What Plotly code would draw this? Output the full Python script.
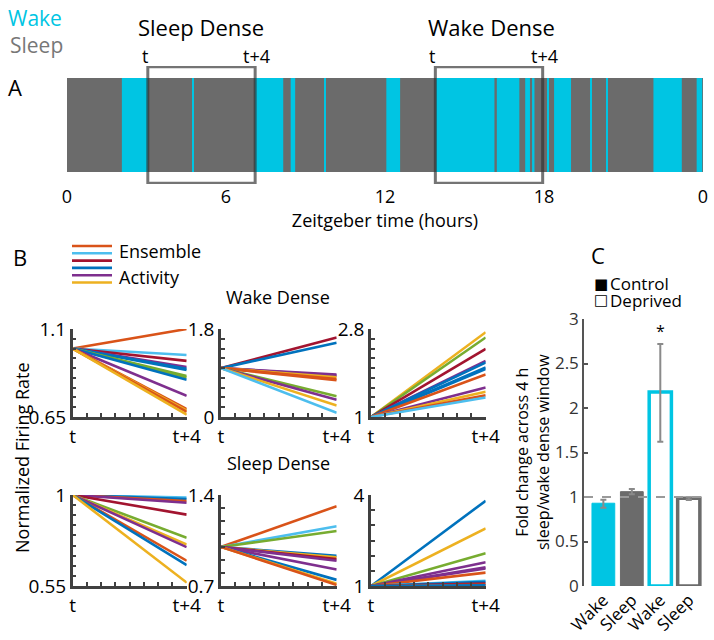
import plotly.graph_objects as go
import numpy as np

# ---------------- Panel A data (hours) ----------------
wake_start = [2.07, 4.74, 7.09, 8.44, 9.72, 12.05, 13.92, 16.22, 17.29, 17.55, 18.15, 18.38, 19.74, 20.34, 22.13, 23.76]
wake_end   = [3.06, 4.78, 8.16, 8.61, 9.76, 12.57, 16.13, 17.07, 17.47, 17.64, 18.19, 19.02, 19.78, 20.38, 23.20, 23.97]
day_length = 24
sleep_window = [3.05, 7.1]
wake_window = [13.9, 17.95]
zt_ticks = [0, 6, 12, 18, 24]
zt_labels = ["0", "6", "12", "18", "0"]

# ---------------- Panel B data ----------------
t_pts = [0, 4]
wd1_end = [1.10, 0.967, 0.937, 0.905, 0.897, 0.89, 0.86, 0.852, 0.840, 0.758, 0.69, 0.683, 0.676, 0.662]
wd1_col = ["orange", "lightblue", "darkred", "purple", "blue", "blue", "green", "green", "blue", "purple", "orange", "yellow", "orange", "yellow"]
wd2_end = [1.624, 1.52, 0.866, 0.846, 0.812, 0.778, 0.75, 0.426, 0.352, 0.237, 0.088]
wd2_col = ["darkred", "blue", "purple", "purple", "yellow", "orange", "orange", "green", "purple", "yellow", "lightblue"]
wd3_end = [2.734, 2.627, 2.395, 2.149, 2.116, 2.016, 1.983, 1.87, 1.605, 1.518, 1.445, 1.40]
wd3_col = ["yellow", "green", "darkred", "purple", "blue", "blue", "blue", "orange", "purple", "yellow", "orange", "lightblue"]
sd1_end = [0.987, 0.98, 0.97, 0.962, 0.903, 0.788, 0.755, 0.742, 0.675, 0.653, 0.567]
sd1_col = ["lightblue", "blue", "orange", "purple", "darkred", "green", "yellow", "purple", "orange", "blue", "yellow"]
sd2_end = [1.314, 1.159, 1.123, 0.933, 0.92, 0.907, 0.894, 0.827, 0.747, 0.718, 0.708]
sd2_col = ["orange", "lightblue", "green", "blue", "yellow", "darkred", "purple", "purple", "blue", "yellow", "orange"]
sd3_end = [3.81, 2.90, 2.08, 1.78, 1.615, 1.58, 1.44, 1.17, 1.14, 1.08, 1.04, 1.02]
sd3_col = ["blue", "yellow", "green", "purple", "purple", "purple", "orange", "lightblue", "blue", "darkred", "orange", "blue"]
start_val = 1.0
b_ranges = [[0.65, 1.1], [0, 1.8], [1, 2.8], [0.55, 1], [0.7, 1.4], [1, 4]]
b_labels = [["0.65", "1.1"], ["0", "1.8"], ["1", "2.8"], ["0.55", "1"], ["0.7", "1.4"], ["1", "4"]]
b_steps = [0.05, 0.2, 0.2, 0.05, 0.1, 0.5]
legend_cols = ["orange", "lightblue", "darkred", "blue", "purple", "yellow"]

# ---------------- Panel C data ----------------
c_cats = ["Wake", "Sleep", "Wake", "Sleep"]
ctrl_mean = [0.93, 1.06]
ctrl_err_lo = [0.05, 0.03]
ctrl_err_hi = [0.04, 0.03]
dep_mean = [2.18, 0.985]
dep_err_lo = [0.56, 0.02]
dep_err_hi = [0.54, 0.01]

# ---------------- styles ----------------
FONT = "Open Sans"
CYAN = "#00C5E3"
GRAY = "#6B6B6B"
AX = "#404040"
PAL = {"orange": "#D95319", "lightblue": "#4DBEEE", "darkred": "#A2142F", "blue": "#0072BD",
       "purple": "#7E2F8E", "yellow": "#EDB120", "green": "#77AC30"}

W, H = 714, 640
def px(x): return x / W
def py(y): return 1 - y / H

fig = go.Figure()

# Panel A
fig.add_trace(go.Bar(orientation="h", y=[0.5], x=[day_length], base=[0], width=[1],
                     marker=dict(color=GRAY, line=dict(width=0)), xaxis="x", yaxis="y", showlegend=False))
fig.add_trace(go.Bar(orientation="h", y=[0.5] * len(wake_start),
                     x=[e - s for s, e in zip(wake_start, wake_end)], base=wake_start,
                     width=[1] * len(wake_start),
                     marker=dict(color=CYAN, line=dict(width=0)), xaxis="x", yaxis="y", showlegend=False))
box_line = dict(color="rgba(50,50,50,0.68)", width=3)
for win in (sleep_window, wake_window):
    fig.add_shape(type="rect", xref="x", yref="y", x0=win[0], x1=win[1], y0=-0.12, y1=1.12, line=box_line)

layout = dict(
    width=W, height=H, margin=dict(l=0, r=0, t=0, b=0, autoexpand=False),
    paper_bgcolor="white", plot_bgcolor="white", barmode="overlay", showlegend=False,
    font=dict(family=FONT, color="black"),
    xaxis=dict(domain=[px(67), px(703)], range=[0, day_length], tickvals=zt_ticks, ticktext=zt_labels,
               showline=False, ticks="", showgrid=False, zeroline=False, anchor="y", automargin=False,
               tickfont=dict(size=18), title=dict(text="Zeitgeber time (hours)", font=dict(size=18), standoff=0)),
    yaxis=dict(domain=[py(184), py(66)], range=[-0.128, 1.128], visible=False, anchor="x", automargin=False),
)

annotations = []
def ann(text, x, y, size, color="black", xref="paper", yref="paper", **kw):
    d = dict(text=text, x=x, y=y, xref=xref, yref=yref, showarrow=False,
             xanchor="center", yanchor="middle",
             font=dict(size=size, color=color, family=FONT))
    d.update(kw)
    annotations.append(d)

ann("Wake", px(35), py(18), 21, color=CYAN)
ann("Sleep", px(36), py(45), 21, color="#777777")
ann("A", px(15), py(87), 22)
ann("Sleep Dense", sum(sleep_window) / 2, py(27), 22, xref="x")
ann("Wake Dense", sum(wake_window) / 2 + 0.1, py(27), 22, xref="x")
for win in (sleep_window, wake_window):
    ann("t", win[0] - 0.12, py(56), 18, xref="x")
    ann("t+4", win[1] + 0.05, py(56), 18, xref="x")

# Panel B
b_data = [(wd1_end, wd1_col), (wd2_end, wd2_col), (wd3_end, wd3_col),
          (sd1_end, sd1_col), (sd2_end, sd2_col), (sd3_end, sd3_col)]
col_x = [(72.7, 186.7), (221, 336.7), (371, 485.7)]
row_y = [(329, 417), (495, 586)]
for i, (ends, cols) in enumerate(b_data):
    k = i + 2
    r, c = divmod(i, 3)
    xa, ya = f"x{k}", f"y{k}"
    for e, cname in zip(ends, cols):
        fig.add_trace(go.Scatter(x=t_pts, y=[start_val, e], mode="lines",
                                 line=dict(color=PAL[cname], width=2.6), xaxis=xa, yaxis=ya, showlegend=False))
    lo, hi = b_ranges[i]
    ytv = list(np.round(np.arange(lo, hi + 1e-9, b_steps[i]), 4))
    ytt = [""] * len(ytv)
    ytt[0], ytt[-1] = b_labels[i]
    xtv = list(np.arange(0, 4.01, 0.5))
    xtt = ["t"] + [""] * (len(xtv) - 2) + ["t+4"]
    layout[f"xaxis{k}"] = dict(domain=[px(col_x[c][0]), px(col_x[c][1])], range=[0, 4], anchor=ya,
                               tickvals=xtv, ticktext=xtt, ticks="inside", ticklen=4, tickwidth=2, tickcolor=AX,
                               showline=True, linecolor=AX, linewidth=2.5, showgrid=False, zeroline=False,
                               tickfont=dict(size=19), automargin=False)
    layout[f"yaxis{k}"] = dict(domain=[py(row_y[r][1]), py(row_y[r][0])], range=[lo, hi], anchor=xa,
                               tickvals=ytv, ticktext=ytt, ticks="inside", ticklen=4, tickwidth=2, tickcolor=AX,
                               showline=True, linecolor=AX, linewidth=2.5, showgrid=False, zeroline=False,
                               tickfont=dict(size=19), automargin=False)

ann("B", px(20), py(257), 22)
for j, cname in enumerate(legend_cols):
    yy = py(246 + j * 7.3)
    fig.add_shape(type="line", xref="paper", yref="paper", x0=px(72), x1=px(112), y0=yy, y1=yy,
                  line=dict(color=PAL[cname], width=2.6))
ann("Ensemble", px(117), py(251), 18, xanchor="left")
ann("Activity", px(117), py(277), 18, xanchor="left")
ann("Wake Dense", px(278), py(297), 18)
ann("Sleep Dense", px(278), py(463), 18)
ann("Normalized Firing Rate", px(22), py(458), 18, textangle=-90)

# Panel C
fig.add_trace(go.Bar(x=[0, 1], y=ctrl_mean, width=0.8,
                     marker=dict(color=[CYAN, GRAY], line=dict(color=[CYAN, GRAY], width=1)),
                     error_y=dict(type="data", array=ctrl_err_hi, arrayminus=ctrl_err_lo, color="#8a8a8a",
                                  thickness=2, width=3),
                     xaxis="x8", yaxis="y8", showlegend=False, cliponaxis=False))
fig.add_trace(go.Bar(x=[2, 3], y=dep_mean, width=0.78,
                     marker=dict(color="white", line=dict(color=[CYAN, GRAY], width=3.5)),
                     error_y=dict(type="data", array=dep_err_hi, arrayminus=dep_err_lo, color="#8a8a8a",
                                  thickness=2, width=3),
                     xaxis="x8", yaxis="y8", showlegend=False, cliponaxis=False))
fig.add_shape(type="line", xref="x8 domain", yref="y8", x0=0, x1=1, y0=1, y1=1,
              line=dict(color="#9a9a9a", width=2, dash="dash"))
layout["xaxis8"] = dict(domain=[px(584), px(703)], range=[-0.68, 3.5], anchor="y8",
                        tickvals=[0, 1, 2, 3], ticktext=c_cats, tickangle=-45, ticks="",
                        showline=False, showgrid=False, zeroline=False, tickfont=dict(size=17), automargin=False)
layout["yaxis8"] = dict(domain=[py(586), py(319)], range=[0, 3], anchor="x8",
                        tickvals=[0, 0.5, 1, 1.5, 2, 2.5, 3], ticktext=["0", "0.5", "1", "1.5", "2", "2.5", "3"],
                        ticks="inside", ticklen=4, tickwidth=1.5, tickcolor="#555555",
                        showline=True, linecolor="#555555", linewidth=1.5, showgrid=False, zeroline=False,
                        tickfont=dict(size=17, color="#333333"), automargin=False)
ann("*", 2, dep_mean[0] + dep_err_hi[0], 16, xref="x8", yref="y8", yanchor="bottom")
ann("C", px(598), py(255), 22)
ann("\u25A0", px(601), py(284), 15, font=dict(size=15, color="black", family="DejaVu Sans"))
ann("\u25A1", px(601), py(300), 15, font=dict(size=15, color="black", family="DejaVu Sans"))
ann("Control", px(608), py(283), 17, xanchor="left")
ann("Deprived", px(608), py(300), 17, xanchor="left")
ann("Fold change across 4 h<br>sleep/wake dense window", px(532), py(452), 16, textangle=-90)

layout["annotations"] = annotations
fig.update_layout(**layout)
fig.write_html("out.html", config={"displayModeBar": False},
               post_script="document.body.style.margin='0px';")
